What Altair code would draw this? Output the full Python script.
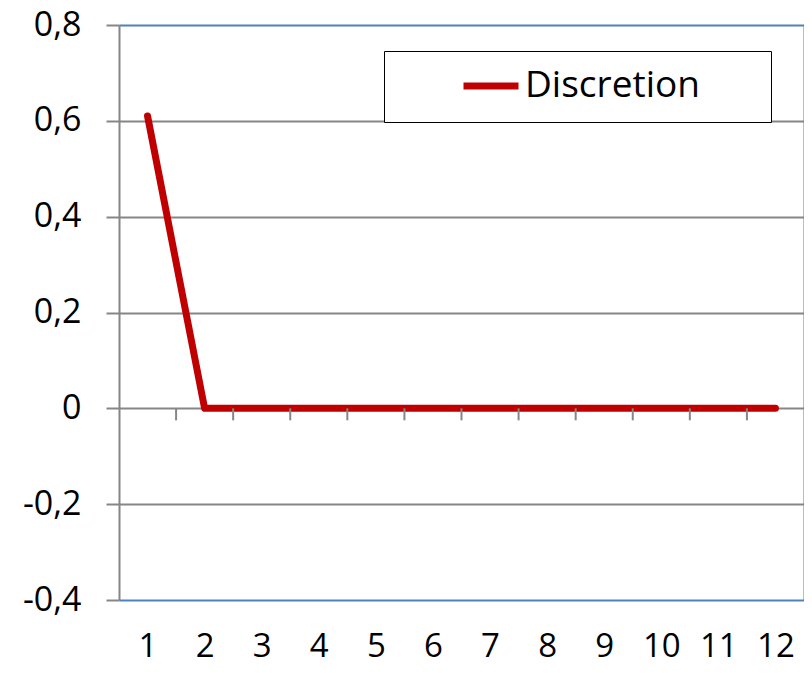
import altair as alt
import pandas as pd

categories = [1, 2, 3, 4, 5, 6, 7, 8, 9, 10, 11, 12]
discretion = [0.61, 0, 0, 0, 0, 0, 0, 0, 0, 0, 0, 0]
series_name = "Discretion"
y_ticks = [-0.4, -0.2, 0, 0.2, 0.4, 0.6, 0.8]
boundary_ticks = [1.5, 2.5, 3.5, 4.5, 5.5, 6.5, 7.5, 8.5, 9.5, 10.5, 11.5]

df = pd.DataFrame({"x": categories, "y": discretion, "series": series_name})
ticks_df = pd.DataFrame({"b": boundary_ticks})

FONT = "Open Sans"
GRID = "#868686"
BLUE = "#4F81BD"
RED = "#C00000"

xscale = alt.Scale(domain=[0.5, 12.5], nice=False, zero=False)
yscale = alt.Scale(domain=[-0.4, 0.8], nice=False)

x_axis = alt.Axis(values=categories, title=None, grid=False, domain=False, ticks=False,
                  labelFontSize=33, labelFont=FONT, labelColor="black", format="d",
                  labelPadding=30, labelFlush=False, labelBaseline="top")
y_axis = alt.Axis(values=y_ticks, title=None, grid=True,
                  gridColor=alt.expr("datum.value == 0.8 || datum.value == -0.4 ? '%s' : '%s'" % (BLUE, GRID)),
                  gridWidth=2, domainColor=GRID, domainWidth=2,
                  tickColor=GRID, tickWidth=2, tickSize=13,
                  labelFontSize=34, labelFont=FONT, labelColor="black", labelPadding=25,
                  labelExpr="replace(replace(format(datum.value, '~g'), '.', ','), '\u2212', '-')")
y_right = alt.Axis(orient="right", title=None, grid=False, labels=False, ticks=False,
                   domain=True, domainColor=BLUE, domainWidth=2)

line = alt.Chart(df).mark_line(strokeWidth=7, strokeCap="round", strokeJoin="round").encode(
    x=alt.X("x:Q", scale=xscale, axis=x_axis),
    y=alt.Y("y:Q", scale=yscale, axis=y_axis),
    color=alt.Color("series:N", scale=alt.Scale(range=[RED]),
                    legend=alt.Legend(title=None, orient="none", legendX=265, legendY=26,
                                      symbolType="stroke", symbolStrokeWidth=7, symbolSize=3025,
                                      symbolStrokeColor=RED, symbolOffset=58, clipHeight=34,
                                      labelFontSize=37, labelFont=FONT, labelColor="black", labelOffset=3,
                                      labelExpr="datum.label + '\u2003\u2004\u200a\u200b'",
                                      labelLimit=800,
                                      padding=18, strokeColor="black", fillColor="white")),
)

tick_layer = alt.Chart(ticks_df).mark_tick(orient="vertical", size=12, thickness=2, yOffset=6, color=GRID, opacity=1).encode(
    x=alt.X("b:Q", scale=xscale, axis=x_axis),
    y=alt.datum(0, scale=yscale, axis=y_right),
)

chart = alt.layer(line, tick_layer).resolve_scale(y="independent").properties(
    width=685, height=575,
    autosize=alt.AutoSizeParams(type="none"),
    padding={"left": 111, "top": 17, "right": 0, "bottom": 65},
    background="white",
).configure_view(strokeWidth=0)

chart.save("out.html", embed_options={"renderer": "svg", "actions": False})
